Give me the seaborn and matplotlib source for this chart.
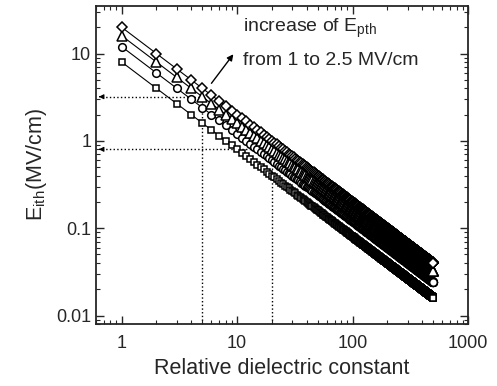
"""E_ith versus relative dielectric constant for four E_pth values (log-log)."""

import numpy as np
import matplotlib

matplotlib.use("Agg")
import matplotlib.pyplot as plt  # noqa: E402
import pandas as pd  # noqa: E402
import seaborn as sns  # noqa: E402

# relative dielectric constants sampled (integers 1..500)
eps_r = list(range(1, 501))
# E_pth values (MV/cm) of the four curves, lowest to highest
e_pth = [1.0, 1.5, 2.0, 2.5]
# E_ith at eps_r = 1 for each curve (MV/cm)
e_ith_at_1 = [8.0, 12.0, 16.0, 20.0]
markers = ["s", "o", "^", "D"]
marker_sizes = [5, 5.5, 6.5, 5]

# guide lines drawn on the E_pth = 2 curve
guide_eps = [5, 20]
guide_series = 2

x_ticks = [1, 10, 100, 1000]
x_ticklabels = ["1", "10", "100", "1000"]
y_ticks = [0.01, 0.1, 1, 10]
y_ticklabels = ["0.01", "0.1", "1", "10"]

rows = []
for k, (ep, y1) in enumerate(zip(e_pth, e_ith_at_1)):
    for e in eps_r:
        rows.append({"eps": e, "E_ith": y1 / e, "E_pth": ep})
df = pd.DataFrame(rows)

sns.set_style("ticks")
plt.rcParams["font.family"] = ["Liberation Sans", "DejaVu Sans"]
plt.rcParams["mathtext.fontset"] = "custom"
plt.rcParams["mathtext.rm"] = "Liberation Sans"
plt.rcParams["mathtext.it"] = "Liberation Sans"

fig = plt.figure(figsize=(4.97, 3.86), dpi=100)
ax = fig.add_axes([96 / 497, 1 - 324 / 386, (468 - 96) / 497, (324 - 6) / 386])

for k, ep in enumerate(e_pth):
    sub = df[df["E_pth"] == ep]
    sns.lineplot(
        data=sub,
        x="eps",
        y="E_ith",
        ax=ax,
        color="black",
        lw=0.8,
        marker=markers[k],
        markersize=marker_sizes[k],
        markerfacecolor="white",
        markeredgecolor="black",
        markeredgewidth=1.1,
        legend=False,
        zorder=3,
    )

ax.set_xscale("log")
ax.set_yscale("log")
ax.set_xlim(0.6, 1000)
ax.set_ylim(0.008, 35)

# dotted guides with arrows pointing at the y axis
xmin = ax.get_xlim()[0]
ymin = ax.get_ylim()[0]
for e in guide_eps:
    yv = e_ith_at_1[guide_series] / e
    ax.plot([e, e], [ymin, yv], ls=":", color="black", lw=1.0, zorder=2)
    ax.plot([xmin * 1.12, e], [yv, yv], ls=":", color="black", lw=1.0, zorder=2)
    ax.annotate(
        "",
        xy=(xmin, yv),
        xytext=(xmin * 1.14, yv),
        arrowprops=dict(arrowstyle="-|>", color="black", lw=0.8, mutation_scale=7),
    )

ax.annotate(
    "",
    xy=(9.6, 10.4),
    xytext=(5.8, 4.3),
    arrowprops=dict(arrowstyle="-|>", color="black", lw=1.0, mutation_scale=9),
)
ax.text(11.2, 19.5, r"increase of E$_{\rm pth}$", fontsize=14, va="center")
ax.text(11.2, 8.4, "from 1 to 2.5 MV/cm", fontsize=14, va="center")

ax.set_xticks(x_ticks)
ax.set_xticklabels(x_ticklabels)
ax.set_yticks(y_ticks)
ax.set_yticklabels(y_ticklabels)
ax.tick_params(which="both", direction="in", top=True, right=True, labelsize=13)
ax.tick_params(which="major", length=6, width=1.0)
ax.tick_params(which="minor", length=3, width=0.8)
ax.tick_params(axis="x", pad=8)
for s in ax.spines.values():
    s.set_linewidth(1.3)

ax.set_xlabel("Relative dielectric constant", fontsize=15.5, labelpad=4)
ax.set_ylabel(r"E$_{\rm ith}$(MV/cm)", fontsize=15.5, labelpad=5)

fig.savefig("out.png", dpi=100)
